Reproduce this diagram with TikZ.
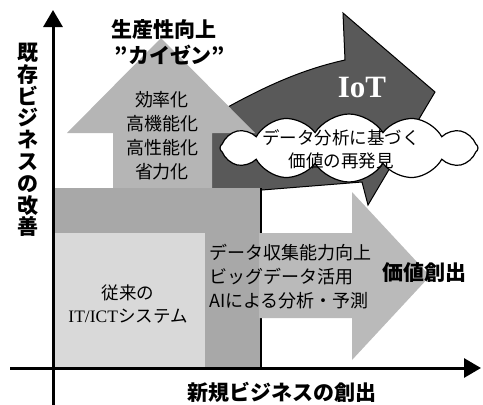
\documentclass[tikz,border=0pt]{standalone}
\usepackage{fontspec}
\usepackage{tikz}
\usetikzlibrary{arrows.meta,shapes.symbols}
\newfontfamily\jp{Noto Sans CJK JP}
\newfontfamily\latserif{Liberation Serif}

\begin{document}
\begin{tikzpicture}[x=1pt,y=-1pt,
  axis/.style={line width=3pt,-{Triangle[length=17pt,width=19pt]}},
  title/.style={font=\jp\bfseries\fontsize{21}{21.8}\selectfont,inner sep=0pt},
  body/.style={font=\jp\fontsize{18}{24}\selectfont,inner sep=0pt},
  small/.style={font=\jp\fontsize{17.5}{23}\selectfont,inner sep=0pt},
  cloudbox/.style={cloud,cloud puffs=12,cloud puff arc=115,cloud ignores aspect,
    draw,fill=white,line width=1.2pt,minimum width=258pt,minimum height=68pt}]
  \useasboundingbox (0,0) rectangle (483,405);

  \fill[black!65,draw=black,line width=1pt] (205,120) .. controls (260,88) and (300,70) .. (345,60)
    -- (343,13) -- (435,92) -- (368,205) -- (362,182) -- (262,190) -- (205,190) -- cycle;
  \fill[black!29] (113,200) -- (113,133) -- (67,133) -- (161,38) -- (255,133)
    -- (212,133) -- (212,200) -- cycle;
  \fill[black!34] (55,188) rectangle (261,368);
  \draw[line width=1.5pt] (261,188) -- (261,368);
  \fill[black!15] (55,233) rectangle (205,368);
  \fill[black!27] (259,233) -- (352,233) -- (352,192) -- (430,276) -- (352,360)
    -- (352,318) -- (259,318) -- cycle;

  \node[cloudbox] (cloud) at (349,148) {};
  \node[small,align=center] (cloudtxt) at (341,149) {データ分析に基づく\\価値の再発見};
  \node[font=\latserif\bfseries\fontsize{31}{31}\selectfont,text=white,inner sep=0pt] (iot) at (362,87) {IoT};

  \node[title] (prod) at (164,30) {生産性向上};
  \node[title] (kaizen) at (170,55) {”カイゼン”};
  \node[body,align=center] (eff) at (162,136) {効率化\\高機能化\\高性能化\\省力化};
  \node[small,align=center] (legacy) at (128,304) {従来の\\{\latserif IT/ICT}システム};
  \node[body,align=left,anchor=west] (data) at (209,277) {データ収集能力向上\\ビッグデータ活用\\AIによる分析・予測};
  \node[title] (value) at (424,273) {価値創出};
  \node[title,align=center] (ylab) at (28,140) {既\\存\\ビ\\ジ\\ネ\\ス\\の\\改\\善};
  \node[title] (xlab) at (282,392) {新規ビジネスの創出};

  \coordinate (ybot) at (53,405);
  \coordinate (ytop) at (53,10);
  \coordinate (xleft) at (10,368);
  \coordinate (xright) at (481,368);
  \draw[axis] (ybot) -- (ytop);
  \draw[axis] (xleft) -- (xright);
\end{tikzpicture}
\end{document}
